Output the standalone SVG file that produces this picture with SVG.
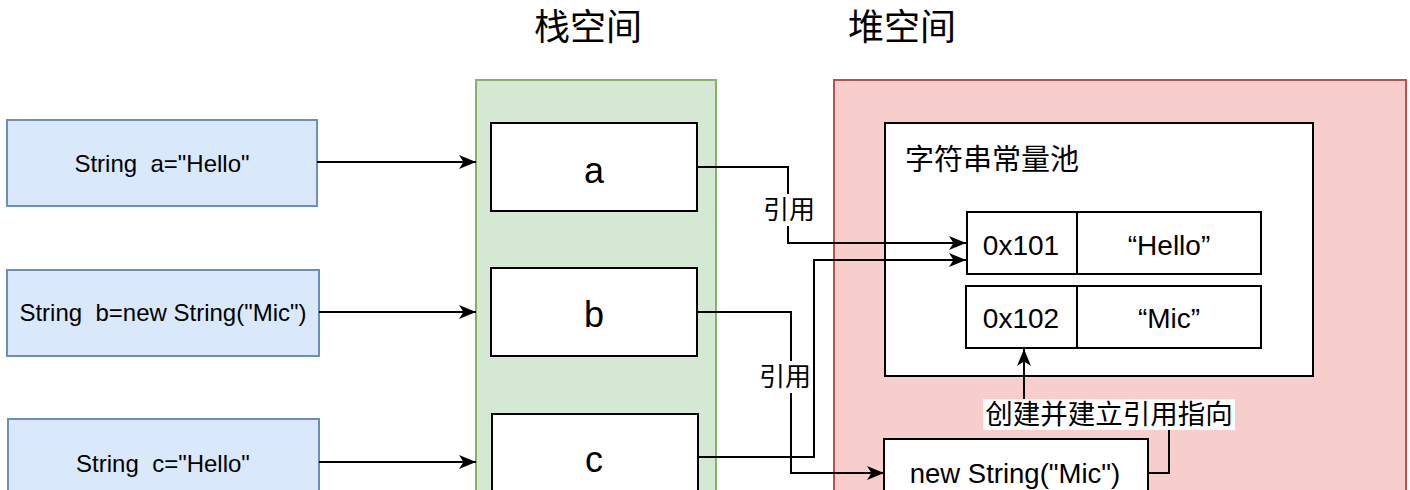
<svg xmlns="http://www.w3.org/2000/svg" width="1410" height="490" viewBox="0 0 1410 490">
<style>
.cjk{font-family:"Noto Sans CJK SC","Noto Sans",sans-serif;fill:#000}
.lat{font-family:"Liberation Sans",Arial,sans-serif;fill:#000}
.blue{fill:#dae8fc;stroke:#6c8ebf;stroke-width:2}
.box{fill:#fff;stroke:#000;stroke-width:2}
.conn{fill:none;stroke:#000;stroke-width:2}
</style>
<defs>
<marker id="arr" markerUnits="userSpaceOnUse" markerWidth="18" markerHeight="16" refX="17" refY="8" orient="auto" viewBox="0 0 18 16">
<path d="M0,1 L17,8 L0,15 L4.5,8 Z" fill="#000"/>
</marker>
</defs>
<rect width="1410" height="490" fill="#fff"/>
<g id="title-stack"><text class="cjk" x="588" y="40" font-size="36" text-anchor="middle">栈空间</text></g>
<g id="title-heap"><text class="cjk" x="902" y="40" font-size="36" text-anchor="middle">堆空间</text></g>
<g id="stack"><rect x="476" y="80" width="240" height="420" fill="#d5e8d4" stroke="#82b366" stroke-width="2"/></g>
<g id="heap"><rect x="834" y="80" width="572" height="420" fill="#f8cecc" stroke="#b85450" stroke-width="2"/></g>
<g id="decl-a"><rect class="blue" x="7" y="120" width="310" height="86"/><text class="lat" x="162" y="172" font-size="24" text-anchor="middle" xml:space="preserve">String  a="Hello"</text></g>
<g id="decl-b"><rect class="blue" x="7" y="270" width="312" height="86"/><text class="lat" x="163" y="321" font-size="24" text-anchor="middle" xml:space="preserve">String  b=new String("Mic")</text></g>
<g id="decl-c"><rect class="blue" x="8" y="419" width="311" height="86"/><text class="lat" x="163" y="472" font-size="24" text-anchor="middle" xml:space="preserve">String  c="Hello"</text></g>
<g id="var-a"><rect class="box" x="491" y="123" width="206" height="88"/><text class="lat" x="594" y="183" font-size="36" text-anchor="middle">a</text></g>
<g id="var-b"><rect class="box" x="491" y="268" width="206" height="88"/><text class="lat" x="594" y="327" font-size="36" text-anchor="middle">b</text></g>
<g id="var-c"><rect class="box" x="492" y="414" width="206" height="88"/><text class="lat" x="594" y="472" font-size="36" text-anchor="middle">c</text></g>
<g id="pool"><rect class="box" x="885" y="123" width="428" height="253"/><text class="cjk" x="905" y="170" font-size="29">字符串常量池</text></g>
<g id="row-101"><rect class="box" x="967" y="212" width="294" height="62"/><line x1="1077" y1="212" x2="1077" y2="274" stroke="#000" stroke-width="2"/><text class="lat" x="1021" y="255" font-size="28" text-anchor="middle">0x101</text><text class="lat" x="1169" y="255" font-size="28" text-anchor="middle">“Hello”</text></g>
<g id="row-102"><rect class="box" x="966" y="286" width="295" height="62"/><line x1="1077" y1="286" x2="1077" y2="348" stroke="#000" stroke-width="2"/><text class="lat" x="1021" y="328" font-size="28" text-anchor="middle">0x102</text><text class="lat" x="1169" y="328" font-size="28" text-anchor="middle">“Mic”</text></g>
<g id="newstr"><rect class="box" x="884" y="439" width="264" height="80"/><text class="lat" x="1015" y="483" font-size="27.5" text-anchor="middle">new String("Mic")</text></g>
<g id="connectors">
<path class="conn" d="M317,162 H476" marker-end="url(#arr)"/>
<path class="conn" d="M319,312 H476" marker-end="url(#arr)"/>
<path class="conn" d="M319,462 H476" marker-end="url(#arr)"/>
<path class="conn" d="M697,167 H788 V243 H966" marker-end="url(#arr)"/>
<path class="conn" d="M698,457 H814 V260 H966" marker-end="url(#arr)"/>
<path class="conn" d="M697,312 H791 V473 H884" marker-end="url(#arr)"/>
<path class="conn" d="M1148,473 H1169 V414 H1024 V349" marker-end="url(#arr)"/>
<rect x="762" y="194" width="54" height="32" fill="#fff"/>
<text class="cjk" x="789" y="219" font-size="26" text-anchor="middle">引用</text>
<rect x="758" y="361" width="54" height="32" fill="#fff"/>
<text class="cjk" x="785" y="386" font-size="26" text-anchor="middle">引用</text>
<rect x="983" y="399" width="252" height="31" fill="#fff"/>
<text class="cjk" x="1109" y="424" font-size="27.5" text-anchor="middle">创建并建立引用指向</text>
</g>
</svg>
